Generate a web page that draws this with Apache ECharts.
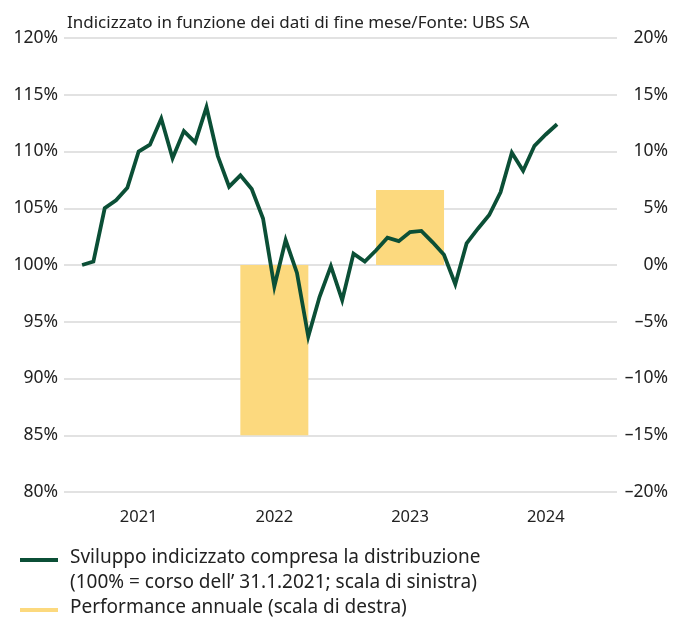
<!DOCTYPE html>
<html>
<head>
<meta charset="utf-8">
<script src="https://cdn.jsdelivr.net/npm/echarts@6/dist/echarts.min.js"></script>
<style>
  html, body { margin: 0; padding: 0; background: #fff; }
  #chart { width: 674px; height: 625px; }
</style>
</head>
<body>
<div id="chart"></div>
<script>
// indice mensile (100% = 31.1.2021), scala di sinistra
const indexValues = [
  100.0, 100.3, 105.0, 105.7, 106.8, 110.0, 110.6, 112.9, 109.4, 111.8,
  110.8, 113.9, 109.6, 106.9, 107.9, 106.7, 104.1, 98.1, 102.2, 99.3,
  93.7, 97.2, 99.9, 96.9, 101.0, 100.3, 101.3, 102.4, 102.1, 102.9,
  103.0, 102.0, 100.9, 98.3, 101.9, 103.2, 104.4, 106.4, 109.9, 108.3,
  110.5, 111.5, 112.4
];
// performance annuale, scala di destra (posizione = mese centrale)
const barMonths = [17, 29];
const barValues = [-15, 6.6];
// etichette asse x
const yearTicks = [5, 17, 29, 41];
const yearLabels = ['2021', '2022', '2023', '2024'];

const green = '#0b4f36';
const yellow = '#fcd97e';
const textColor = '#222';
const font = 'Noto Sans';

const lineData = indexValues.map((v, i) => [i, v]);
const barData = barMonths.map((m, i) => [m, barValues[i]]);

const chart = echarts.init(document.getElementById('chart'));
chart.setOption({
  animation: false,
  textStyle: { fontFamily: font, color: textColor },
  title: {
    text: 'Indicizzato in funzione dei dati di fine mese/Fonte: UBS SA',
    left: 62,
    top: 10,
    textStyle: { fontSize: 17, fontWeight: 'normal', color: textColor, fontFamily: font }
  },
  grid: { left: 64, right: 57, top: 38, bottom: 133 },
  xAxis: {
    type: 'value',
    min: -1.6,
    max: 47.3,
    axisLine: { show: false },
    axisTick: { show: false },
    splitLine: { show: false },
    axisLabel: {
      customValues: yearTicks,
      formatter: v => yearLabels[yearTicks.indexOf(v)],
      fontSize: 16.5,
      color: textColor,
      margin: 17
    }
  },
  yAxis: [
    {
      type: 'value',
      min: 80,
      max: 120,
      interval: 5,
      axisLine: { show: false },
      axisTick: { show: false },
      splitLine: { lineStyle: { color: '#d9d9d9', width: 1.5 } },
      axisLabel: { formatter: '{value}%', fontSize: 17.5, color: textColor, margin: 6 }
    },
    {
      type: 'value',
      min: -20,
      max: 20,
      interval: 5,
      axisLine: { show: false },
      axisTick: { show: false },
      splitLine: { show: false },
      axisLabel: {
        formatter: v => (v < 0 ? '\u2013' + Math.abs(v) : v) + '%',
        fontSize: 17.5,
        color: textColor,
        align: 'right',
        margin: 51
      }
    }
  ],
  series: [
    {
      name: 'Performance annuale (scala di destra)',
      type: 'bar',
      yAxisIndex: 1,
      data: barData,
      barWidth: 68,
      itemStyle: { color: yellow },
      z: 1
    },
    {
      name: 'Sviluppo indicizzato compresa la distribuzione',
      type: 'line',
      yAxisIndex: 0,
      data: lineData,
      symbol: 'none',
      lineStyle: { color: green, width: 3.8, join: 'miter' },
      z: 3
    }
  ],
  graphic: [
    { type: 'rect', left: 20, top: 558, shape: { width: 38, height: 4 }, style: { fill: green } },
    { type: 'text', left: 70, top: 548, style: { text: 'Sviluppo indicizzato compresa la distribuzione', fontSize: 19, fill: textColor, fontFamily: font } },
    { type: 'text', left: 70, top: 573, style: { text: '(100% = corso dell\u2019 31.1.2021; scala di sinistra)', fontSize: 19, fill: textColor, fontFamily: font } },
    { type: 'rect', left: 20, top: 608, shape: { width: 38, height: 4 }, style: { fill: yellow } },
    { type: 'text', left: 70, top: 598, style: { text: 'Performance annuale (scala di destra)', fontSize: 19, fill: textColor, fontFamily: font } }
  ]
});
</script>
</body>
</html>
